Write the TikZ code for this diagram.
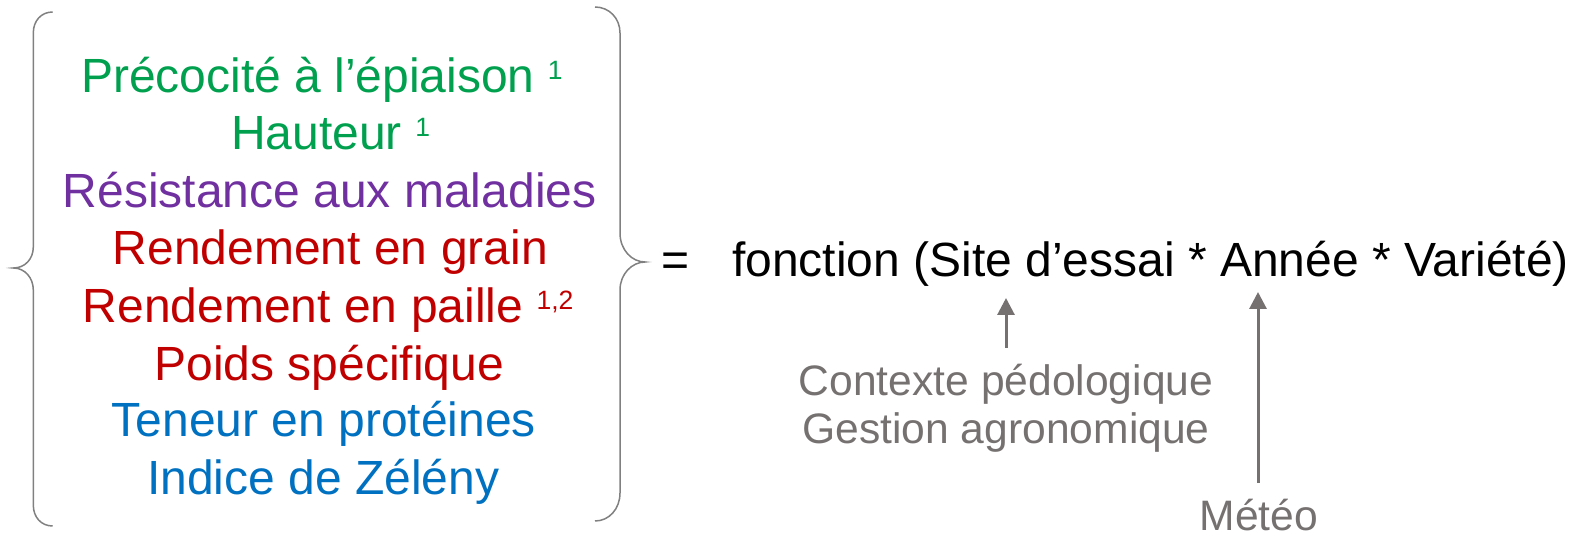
\documentclass[tikz,border=0pt]{standalone}
\usepackage{fontspec}
\setmainfont{Liberation Sans}
\usetikzlibrary{arrows.meta}
\definecolor{cgreen}{HTML}{00A04F}
\definecolor{cpurple}{HTML}{7030A0}
\definecolor{cred}{HTML}{C00000}
\definecolor{cblue}{HTML}{0070C0}
\definecolor{cgrey}{HTML}{767171}
\definecolor{cbrace}{HTML}{808080}
\newcommand\supnum[1]{\raisebox{13.4pt}{\fontsize{26.5pt}{26.5pt}\selectfont #1}}
\begin{document}
\begin{tikzpicture}[x=1pt,y=-1pt,
  every node/.style={inner sep=0pt,outer sep=0pt},
  item/.style={anchor=base west,font=\fontsize{48pt}{57pt}\selectfont},
  main/.style={anchor=base west,font=\fontsize{48pt}{57pt}\selectfont,text=black},
  note/.style={anchor=base,font=\fontsize{42.6pt}{48pt}\selectfont,text=cgrey},
  bracestyle/.style={draw=cbrace,line width=1.5pt},
  pointer/.style={draw=cgrey,line width=3pt,-{Triangle[length=17pt,width=17pt]}}]
\useasboundingbox (0,0) rectangle (1577,537);

% left list
\node[item,text=cgreen] (l1) at (81,92.5) {Précocité à l’épiaison \supnum{1}};
\node[item,text=cgreen] (l2) at (231.2,150) {Hauteur \supnum{1}};
\node[item,text=cpurple] (l3) at (62.9,207.3) {Résistance aux maladies};
\node[item,text=cred] (l4) at (112.9,265) {Rendement en grain};
\node[item,text=cred] (l5) at (82.9,322.7) {Rendement en paille \supnum{1,2}};
\node[item,text=cred] (l6) at (154.5,380) {Poids spécifique};
\node[item,text=cblue] (l7) at (111.7,436.7) {Teneur en protéines};
\node[item,text=cblue] (l8) at (147.2,494.3) {Indice de Zélény};

% braces
\draw[bracestyle] (52.7,12) .. controls (41,12) and (33.3,21) .. (33.3,33)
  -- (33.3,247) .. controls (33.3,259) and (25,268) .. (13.3,268)
  .. controls (25,268) and (33.3,278) .. (33.3,290)
  -- (33.3,505) .. controls (33.3,517) and (41,526) .. (52.7,526);
\draw[bracestyle] (595,7) .. controls (609,7) and (620,18) .. (620,33)
  -- (620,233) .. controls (620,250) and (632,262) .. (645,262)
  .. controls (632,262) and (620,274) .. (620,290)
  -- (620,493) .. controls (620,509) and (609,521) .. (595,521);

% right side
\node[main] (eq) at (661.7,277) {=};
\node[main] (fn) at (732,277) {fonction (Site d’essai * Année * Variété)};
\node[note] (ctx) at (1006,395) {Contexte pédologique};
\node[note] (ges) at (1006,443) {Gestion agronomique};
\node[note] (met) at (1259,530) {Météo};

\coordinate (a1s) at (1006,348);
\coordinate (a1e) at (1006,298);
\coordinate (a2s) at (1258,483);
\coordinate (a2e) at (1258,292);
\draw[pointer] (a1s) -- (a1e);
\draw[pointer] (a2s) -- (a2e);
\end{tikzpicture}
\end{document}
